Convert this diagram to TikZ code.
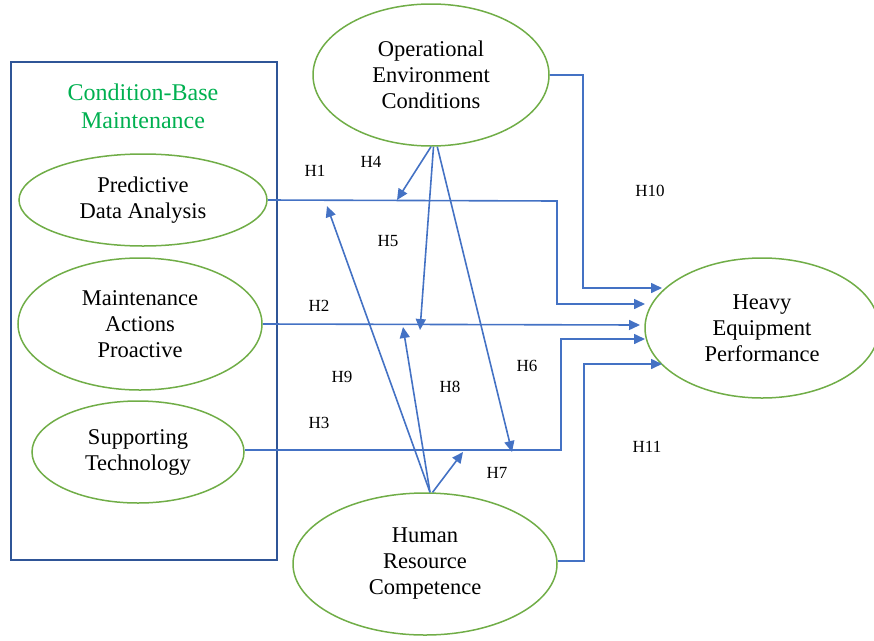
\documentclass[tikz,border=0pt]{standalone}
\usepackage{fontspec}
\setmainfont{Liberation Serif}
\usepackage{xcolor}
\usetikzlibrary{arrows.meta,shapes.geometric}
\definecolor{cgreen}{HTML}{70AD47}
\definecolor{cblue}{HTML}{4472C4}
\definecolor{cnavy}{HTML}{2F5597}
\definecolor{ctitle}{HTML}{00B050}
\tikzset{
  construct/.style={ellipse, draw=cgreen, line width=1.5pt, inner sep=0pt,
    align=center, font=\fontsize{22.5}{26}\selectfont,
    execute at begin node={\rule{0pt}{26pt}}},
  link/.style={draw=cblue, line width=1.6pt, -{Triangle[length=11pt,width=10pt]}},
  hyp/.style={font=\fontsize{17}{20}\selectfont}
}

\begin{document}
\begin{tikzpicture}[x=1pt, y=-1pt]
\useasboundingbox (0,0) rectangle (874,640);
% ---------- condition-base maintenance ----------
\node[draw=cnavy, line width=1.5pt, minimum width=266pt, minimum height=498pt, inner sep=0pt] (cbm) at (144,311) {};
\node[ctitle, align=center, font=\fontsize{24}{28}\selectfont] (title) at (143,106) {Condition-Base\\Maintenance};
\node[construct, minimum width=248pt, minimum height=92pt] (pda) at (143,200) {Predictive\\Data Analysis};
\node[construct, minimum width=244pt, minimum height=132pt] (map) at (140,324) {Maintenance\\Actions\\Proactive};
\node[construct, minimum width=212pt, minimum height=102pt] (st) at (138,452) {Supporting\\Technology};
% ---------- moderators and outcome ----------
\node[construct, minimum width=236pt, minimum height=142pt] (oec) at (431,75) {Operational\\Environment\\Conditions};
\node[construct, minimum width=234pt, minimum height=140pt] (hep) at (762,328) {Heavy\\Equipment\\Performance};
\node[construct, minimum width=264pt, minimum height=142pt] (hrc) at (425,564) {Human\\Resource\\Competence};
% ---------- arrow ends ----------
\coordinate (tipA) at (662,288);
\coordinate (tipB) at (645,304);
\coordinate (tipC) at (640,325);
\coordinate (tipD) at (645,339);
\coordinate (tipE) at (662,364);
\coordinate (tipH4) at (397,200);
\coordinate (tipH5) at (420,330);
\coordinate (tipH6) at (512,452);
\coordinate (tipH9) at (327,206);
\coordinate (tipH8) at (403,327);
\coordinate (tipH7) at (463,452);
% ---------- direct paths ----------
\draw[link] (oec.east) -- (583,75) |- (tipA);
\draw[link] (pda.east) -- (557,201) |- (tipB);
\draw[link] (map.east) -- (tipC);
\draw[link] (st.east) ++(0,-2) -- (561,450) |- (tipD);
\draw[link] (hrc.east) ++(0,-3) -- (584,561) |- (tipE);
% ---------- moderating paths ----------
\draw[link] (oec.south) -- (tipH4);
\draw[link] (oec.-88) -- (tipH5);
\draw[link] (oec.-85) -- (tipH6);
\draw[link] (hrc.86) -- (tipH9);
\draw[link] (hrc.86) -- (tipH8);
\draw[link] (hrc.84) -- (tipH7);
% ---------- hypotheses ----------
\node[hyp] (h1) at (315,171) {H1};
\node[hyp] (h2) at (319,306) {H2};
\node[hyp] (h3) at (319,423) {H3};
\node[hyp] (h4) at (371,162) {H4};
\node[hyp] (h5) at (388,241) {H5};
\node[hyp] (h6) at (527,366) {H6};
\node[hyp] (h7) at (497,473) {H7};
\node[hyp] (h8) at (450,387) {H8};
\node[hyp] (h9) at (342,377) {H9};
\node[hyp] (h10) at (650,191) {H10};
\node[hyp] (h11) at (647,447) {H11};
\end{tikzpicture}
\end{document}
